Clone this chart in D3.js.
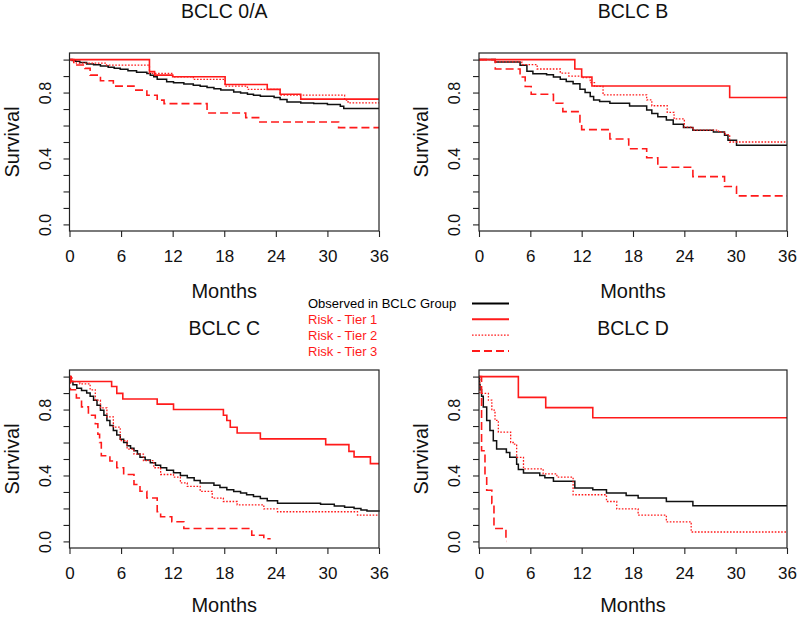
<!DOCTYPE html>
<html>
<head>
<meta charset="utf-8">
<script src="https://cdn.jsdelivr.net/npm/d3@7/dist/d3.min.js"></script>
<style>
  html, body { margin: 0; padding: 0; background: #fff; }
  svg { display: block; }
  text { font-family: "Liberation Sans", Arial, Helvetica, sans-serif; }
</style>
</head>
<body>
<svg id="chart" width="800" height="617"></svg>
<script>
// ---------------- DATA (months, survival) ----------------
const panelTitles = ["BCLC 0/A", "BCLC B", "BCLC C", "BCLC D"];
const xTicks = [0, 6, 12, 18, 24, 30, 36];
const yTicks = [0, 0.1, 0.2, 0.3, 0.4, 0.5, 0.6, 0.7, 0.8, 0.9, 1.0];
const yTickLabels = [0, 0.4, 0.8];
const xLabel = "Months";
const yLabel = "Survival";
const legendLabels = ["Observed in BCLC Group", "Risk - Tier 1", "Risk - Tier 2", "Risk - Tier 3"];

// BCLC 0/A
const observedA = [[0,1],[0.3,0.995],[0.7,0.99],[1.2,0.983],[2.0,0.974],[2.8,0.968],[3.6,0.961],[4.5,0.953],[5.2,0.947],[5.9,0.941],[6.8,0.932],[7.8,0.923],[9.0,0.916],[9.4,0.905],[9.8,0.896],[10.2,0.88],[11.3,0.866],[12.1,0.859],[13.3,0.852],[14.4,0.845],[15.2,0.838],[16.0,0.831],[16.8,0.823],[17.6,0.815],[19.1,0.804],[19.9,0.797],[20.7,0.79],[21.4,0.784],[22.2,0.778],[23.8,0.77],[24.5,0.758],[25.3,0.743],[26.9,0.737],[28.4,0.733],[30.0,0.727],[31.5,0.717],[31.9,0.703],[36,0.703]];
const tier1A = [[0,1],[9.3,0.927],[9.9,0.906],[12.0,0.896],[18.1,0.849],[23.0,0.819],[24.5,0.79],[26.9,0.76],[36,0.76]];
const tier2A = [[0,1],[0.8,0.978],[4.3,0.967],[9.3,0.916],[12.0,0.896],[14.4,0.88],[18.1,0.839],[20.7,0.819],[24.5,0.784],[32.0,0.754],[32.4,0.737],[36,0.737]];
const tier3A = [[0,1],[0.5,0.967],[1.8,0.947],[2.4,0.906],[3.6,0.872],[5.1,0.839],[7.5,0.815],[9.0,0.784],[10.2,0.754],[11.0,0.733],[16.0,0.676],[20.5,0.648],[22.0,0.621],[31.3,0.587],[36,0.587]];

// BCLC B
const observedB = [[0,1],[1.9,0.986],[4.8,0.965],[5.6,0.93],[6.3,0.914],[7.9,0.908],[8.7,0.894],[9.5,0.88],[10.2,0.867],[11.0,0.853],[11.8,0.82],[12.4,0.8],[13.0,0.776],[13.4,0.755],[14.1,0.745],[15.3,0.735],[17.6,0.718],[19.6,0.694],[20.2,0.673],[20.9,0.653],[21.9,0.633],[22.7,0.608],[23.9,0.588],[25.0,0.571],[27.4,0.561],[28.7,0.541],[29.1,0.51],[30.1,0.48],[36,0.48]];
const tier1B = [[0,1],[11.2,0.943],[12.0,0.894],[13.2,0.84],[29.3,0.77],[36,0.77]];
const tier2B = [[0,1],[1.9,0.986],[5.0,0.97],[6.8,0.943],[9.5,0.918],[10.5,0.9],[12.0,0.89],[13.0,0.86],[13.5,0.837],[14.5,0.786],[19.6,0.755],[20.2,0.72],[22.0,0.68],[22.8,0.64],[24.0,0.59],[25.0,0.572],[28.0,0.56],[28.8,0.545],[29.3,0.5],[36,0.5]];
const tier3B = [[0,1],[1.9,0.943],[4.8,0.894],[5.4,0.837],[6.1,0.79],[8.7,0.735],[9.8,0.684],[11.8,0.622],[12.0,0.575],[15.3,0.518],[17.5,0.459],[19.6,0.404],[20.9,0.347],[25.0,0.29],[28.7,0.23],[30.1,0.173],[36,0.173]];

// BCLC C
const observedC = [[0,1],[0.08,0.97],[0.4,0.95],[0.85,0.93],[1.4,0.915],[2.0,0.9],[2.4,0.88],[2.8,0.857],[3.2,0.826],[3.6,0.796],[4.0,0.765],[4.35,0.734],[4.7,0.703],[5.1,0.673],[5.5,0.645],[5.9,0.62],[6.3,0.6],[6.7,0.58],[7.1,0.565],[7.5,0.55],[7.9,0.53],[8.2,0.51],[8.8,0.494],[9.4,0.478],[10.0,0.462],[10.6,0.447],[11.3,0.431],[12.1,0.416],[12.9,0.4],[13.7,0.386],[14.5,0.37],[15.2,0.355],[16.8,0.34],[17.5,0.327],[18.3,0.314],[19.1,0.303],[19.9,0.293],[20.6,0.283],[21.4,0.273],[22.2,0.26],[23.0,0.246],[24.2,0.232],[29.2,0.226],[30.8,0.215],[32.0,0.207],[33.1,0.2],[33.9,0.19],[34.6,0.185],[36,0.18]];
const tier1C = [[0,1],[0.2,0.97],[4.9,0.94],[5.5,0.898],[6.2,0.864],[10.2,0.833],[12.1,0.8],[17.9,0.765],[18.3,0.734],[18.7,0.693],[19.5,0.658],[22.2,0.622],[29.8,0.587],[32.5,0.546],[33.1,0.513],[35.0,0.472],[36,0.472]];
const tier2C = [[0,1],[0.3,0.97],[1.2,0.956],[2.4,0.92],[3.0,0.857],[3.6,0.81],[4.35,0.755],[5.1,0.693],[5.9,0.611],[6.7,0.56],[7.5,0.53],[8.6,0.49],[9.8,0.447],[10.6,0.406],[12.1,0.39],[12.9,0.355],[13.7,0.334],[15.2,0.304],[16.6,0.263],[17.9,0.242],[19.5,0.222],[22.6,0.197],[24.2,0.18],[33.5,0.16],[36,0.16]];
const tier3C = [[0,1],[0.1,0.92],[0.8,0.87],[1.4,0.816],[2.2,0.765],[3.0,0.714],[3.3,0.65],[3.5,0.6],[3.7,0.52],[4.7,0.488],[5.5,0.447],[6.3,0.406],[7.5,0.345],[8.2,0.304],[9.0,0.263],[10.2,0.18],[10.6,0.15],[11.9,0.119],[13.3,0.078],[21.2,0.037],[22.6,0.016],[23.4,0.016]];

// BCLC D
const observedD = [[0,1],[0.05,0.95],[0.12,0.92],[0.3,0.88],[0.5,0.816],[0.9,0.734],[1.28,0.673],[1.67,0.611],[2.06,0.56],[3.2,0.54],[3.6,0.51],[4.4,0.468],[4.6,0.437],[5.2,0.415],[7.1,0.4],[7.7,0.386],[8.7,0.365],[11.2,0.324],[13.3,0.314],[14.9,0.293],[17.2,0.279],[18.6,0.263],[21.9,0.242],[25.0,0.217],[36,0.217]];
const tier1D = [[0,1],[4.6,0.874],[7.8,0.812],[13.3,0.75],[36,0.75]];
const tier2D = [[0,1],[0.1,0.898],[1.1,0.857],[1.5,0.796],[1.87,0.734],[2.26,0.663],[3.7,0.6],[4.0,0.59],[4.4,0.51],[5.2,0.44],[7.5,0.41],[9.1,0.39],[11.0,0.283],[14.9,0.242],[16.1,0.197],[18.6,0.16],[21.9,0.119],[24.8,0.057],[36,0.057]];
const tier3D = [[0,1],[0.3,0.55],[0.7,0.4],[0.9,0.31],[1.5,0.23],[1.75,0.078],[3.15,0.0],[3.2,0.0]];

const panelSeries = [
  [observedA, tier1A, tier2A, tier3A],
  [observedB, tier1B, tier2B, tier3B],
  [observedC, tier1C, tier2C, tier3C],
  [observedD, tier1D, tier2D, tier3D]
];

// ---------------- STYLE ----------------
const seriesStyle = [
  { color: "#111", width: 1.5, dash: null },
  { color: "#ff1a1a", width: 1.6, dash: null },
  { color: "#ff1a1a", width: 1.3, dash: "1.6,1.6" },
  { color: "#ff1a1a", width: 1.6, dash: "8,4" }
];
const legendColors = ["#000", "#ff1a1a", "#ff1a1a", "#ff1a1a"];

const panels = [
  { x0: 69.5, x1: 379, y0: 53, y1: 231, titleY: 18, labelY: 298 },
  { x0: 479, x1: 787, y0: 53, y1: 231, titleY: 18, labelY: 298 },
  { x0: 69.5, x1: 379, y0: 370, y1: 548, titleY: 335, labelY: 612 },
  { x0: 479, x1: 787, y0: 370, y1: 548, titleY: 335, labelY: 612 }
];

const svg = d3.select("#chart");

panels.forEach((p, i) => {
  const x = d3.scaleLinear().domain([0, 36]).range([p.x0, p.x1]);
  const y = d3.scaleLinear().domain([-0.04, 1.04]).range([p.y1, p.y0]);
  const g = svg.append("g");

  const clipId = "clip" + i;
  svg.append("clipPath").attr("id", clipId).append("rect")
    .attr("x", p.x0).attr("y", p.y0 - 2).attr("width", p.x1 - p.x0 + 2).attr("height", p.y1 - p.y0 + 4);

  const line = d3.line().x(d => x(d[0])).y(d => y(d[1])).curve(d3.curveStepAfter);
  const cg = g.append("g").attr("clip-path", `url(#${clipId})`);
  panelSeries[i].forEach((s, k) => {
    const st = seriesStyle[k];
    cg.append("path").datum(s)
      .attr("d", line)
      .attr("fill", "none")
      .attr("stroke", st.color)
      .attr("stroke-width", st.width)
      .attr("stroke-dasharray", st.dash)
      .attr("stroke-linejoin", "miter");
  });

  // box
  g.append("rect")
    .attr("x", p.x0).attr("y", p.y0)
    .attr("width", p.x1 - p.x0).attr("height", p.y1 - p.y0)
    .attr("fill", "none").attr("stroke", "#222").attr("stroke-width", 1.2);

  // x axis
  const xa = g.append("g").attr("transform", `translate(0,${p.y1})`)
    .call(d3.axisBottom(x).tickValues(xTicks).tickSize(6).tickFormat(d3.format("d")));
  xa.select(".domain").remove();
  xa.selectAll(".tick line").attr("stroke", "#222").attr("stroke-width", 1.1);
  xa.selectAll(".tick text").attr("y", 31).attr("dy", 0)
    .attr("font-size", 17).attr("fill", "#111")
    .style("font-family", "'Liberation Sans', Arial, sans-serif");

  // y axis
  const ya = g.append("g").attr("transform", `translate(${p.x0},0)`)
    .call(d3.axisLeft(y).tickValues(yTicks).tickSize(6)
      .tickFormat(d => yTickLabels.some(v => Math.abs(v - d) < 1e-9) ? d3.format(".1f")(d) : ""));
  ya.select(".domain").remove();
  ya.selectAll(".tick line").attr("stroke", "#222").attr("stroke-width", 1.1);
  ya.selectAll(".tick text")
    .attr("x", 0).attr("y", -19).attr("dy", 0)
    .attr("transform", "rotate(-90)")
    .attr("text-anchor", "middle")
    .attr("font-size", 16).attr("fill", "#111")
    .style("font-family", "'Liberation Sans', Arial, sans-serif");

  // title
  g.append("text")
    .attr("x", (p.x0 + p.x1) / 2).attr("y", p.titleY)
    .attr("text-anchor", "middle").attr("font-size", 19.5).attr("fill", "#111")
    .text(panelTitles[i]);

  // x label
  g.append("text")
    .attr("x", (p.x0 + p.x1) / 2).attr("y", p.labelY)
    .attr("text-anchor", "middle").attr("font-size", 20).attr("fill", "#111")
    .text(xLabel);

  // y label
  g.append("text")
    .attr("transform", `translate(${p.x0 - 51},${(p.y0 + p.y1) / 2}) rotate(-90)`)
    .attr("text-anchor", "middle").attr("font-size", 20).attr("fill", "#111")
    .text(yLabel);
});

// ---------------- LEGEND ----------------
const legend = svg.append("g");
const legendRowY = d3.scalePoint().domain(legendLabels).range([303.5, 351]);
legendLabels.forEach((lab, k) => {
  const cy = legendRowY(lab);
  legend.append("text")
    .attr("x", 308).attr("y", cy + 4.8)
    .attr("font-size", 13).attr("fill", legendColors[k])
    .text(lab);
  const st = seriesStyle[k];
  legend.append("line")
    .attr("x1", 472).attr("x2", 509).attr("y1", cy).attr("y2", cy)
    .attr("stroke", k === 0 ? "#000" : st.color)
    .attr("stroke-width", k === 2 ? 1.3 : 2)
    .attr("stroke-dasharray", st.dash);
});
</script>
</body>
</html>
